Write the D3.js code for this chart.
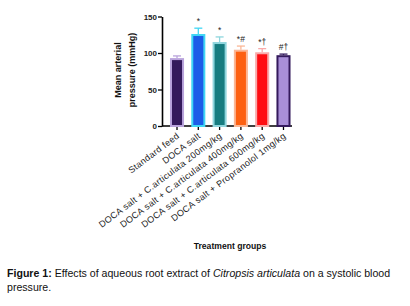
<!DOCTYPE html>
<html>
<head>
<meta charset="utf-8">
<script src="https://cdn.jsdelivr.net/npm/d3@7"></script>
<style>
  body { margin: 0; background: #fff; }
  svg { font-family: "Liberation Sans", Arial, sans-serif; }
</style>
</head>
<body>
<div id="container"></div>
<script>
let w = 410;
let h = 306;

// data
let groups = ["Standard feed", "DOCA salt", "DOCA salt + C.articulata 200mg/kg",
    "DOCA salt + C.articulata 400mg/kg", "DOCA salt + C.articulata 600mg/kg",
    "DOCA salt + Propranolol 1mg/kg"];
let means = [93, 126, 115, 104.5, 101, 97];
let errors = [3, 8, 7, 5, 5, 1.5];
let marks = ["", "*", "*", "*#", "*\u2020", "#\u2020"];
let yTicks = [0, 50, 100, 150];

let fills = ["#341a5c", "#1b5ce8", "#167c80", "#fd6011", "#ff0d12", "#a98fd8"];
let borders = ["#b9a3dc", "#3fd6f4", "#8fd6de", "#fbb796", "#f8aaaa", "#341a5c"];

let svg = d3.select("#container").append("svg")
    .attr("width", w)
    .attr("height", h);

let y = d3.scaleLinear().domain([0, 150]).range([126, 16.5]);
let x = d3.scaleBand().domain(groups)
    .range([162, 298.5])
    .paddingInner(0.34)
    .paddingOuter(0.375);

// y axis
let yAxis = svg.append("g")
    .attr("transform", "translate(162,0)")
    .call(d3.axisLeft(y).tickValues(yTicks).tickSize(4).tickSizeOuter(0));
yAxis.select(".domain").attr("stroke-width", 1.6);
yAxis.selectAll(".tick line").attr("stroke-width", 1.3);
yAxis.selectAll("text")
    .attr("font-size", 8)
    .attr("font-weight", "bold")
    .attr("fill", "#222")
    .attr("x", -5);

// x axis
let xAxis = svg.append("g")
    .attr("transform", "translate(0,126)")
    .call(d3.axisBottom(x).tickSize(4).tickSizeOuter(0));
xAxis.select(".domain").attr("d", "M162,0H292").attr("stroke-width", 1.6);
xAxis.selectAll(".tick line").attr("stroke-width", 1.3);
xAxis.selectAll("text")
    .attr("font-size", 9)
    .attr("letter-spacing", 0.35)
    .attr("fill", "#222")
    .attr("text-anchor", "end")
    .attr("dy", null)
    .attr("y", 0)
    .attr("transform", "translate(3,11) rotate(-37)");

// bars
svg.selectAll(".bar").data(groups).enter()
    .append("rect")
    .attr("class", "bar")
    .attr("x", d => x(d) + 1)
    .attr("width", x.bandwidth() - 2)
    .attr("y", (d, i) => y(means[i]) + 1)
    .attr("height", (d, i) => y(0) - y(means[i]) - 1)
    .attr("fill", (d, i) => fills[i])
    .attr("stroke", (d, i) => borders[i])
    .attr("stroke-width", 2);

// error bars (upper only)
let eb = svg.selectAll(".err").data(groups).enter().append("g").attr("class", "err");
eb.append("line")
    .attr("x1", d => x(d) + x.bandwidth() / 2)
    .attr("x2", d => x(d) + x.bandwidth() / 2)
    .attr("y1", (d, i) => y(means[i]))
    .attr("y2", (d, i) => y(means[i] + errors[i]))
    .attr("stroke", (d, i) => borders[i])
    .attr("stroke-width", 1.3);
eb.append("line")
    .attr("x1", d => x(d) + x.bandwidth() / 2 - 4)
    .attr("x2", d => x(d) + x.bandwidth() / 2 + 4)
    .attr("y1", (d, i) => y(means[i] + errors[i]))
    .attr("y2", (d, i) => y(means[i] + errors[i]))
    .attr("stroke", (d, i) => borders[i])
    .attr("stroke-width", 1.3);

// significance marks
svg.selectAll(".mark").data(groups).enter()
    .append("text")
    .attr("x", d => x(d) + x.bandwidth() / 2)
    .attr("y", (d, i) => y(means[i] + errors[i]) - 4)
    .attr("text-anchor", "middle")
    .attr("font-size", 8.5)
    .attr("fill", "#222")
    .text((d, i) => marks[i]);

// y label
let yl = svg.append("text")
    .attr("font-size", 9)
    .attr("font-weight", "bold")
    .attr("fill", "#111")
    .attr("text-anchor", "middle")
    .attr("transform", "rotate(-90)");
yl.append("tspan").attr("x", -70).attr("y", 120.5).text("Mean arterial");
yl.append("tspan").attr("x", -70).attr("y", 135).text("pressure (mmHg)");

// x label
svg.append("text")
    .attr("x", 230)
    .attr("y", 249)
    .attr("text-anchor", "middle")
    .attr("font-size", 8.6)
    .attr("font-weight", "bold")
    .attr("fill", "#111")
    .text("Treatment groups");

// caption
let cap = svg.append("text")
    .attr("font-size", 10.6)
    .attr("fill", "#111");
let l1 = cap.append("tspan").attr("x", 7).attr("y", 277);
l1.append("tspan").attr("font-weight", "bold").text("Figure 1:");
l1.append("tspan").text(" Effects of aqueous root extract of ");
l1.append("tspan").attr("font-style", "italic").text("Citropsis articulata");
l1.append("tspan").text(" on a systolic blood");
cap.append("tspan").attr("x", 7).attr("y", 291).text("pressure.");
</script>
</body>
</html>
